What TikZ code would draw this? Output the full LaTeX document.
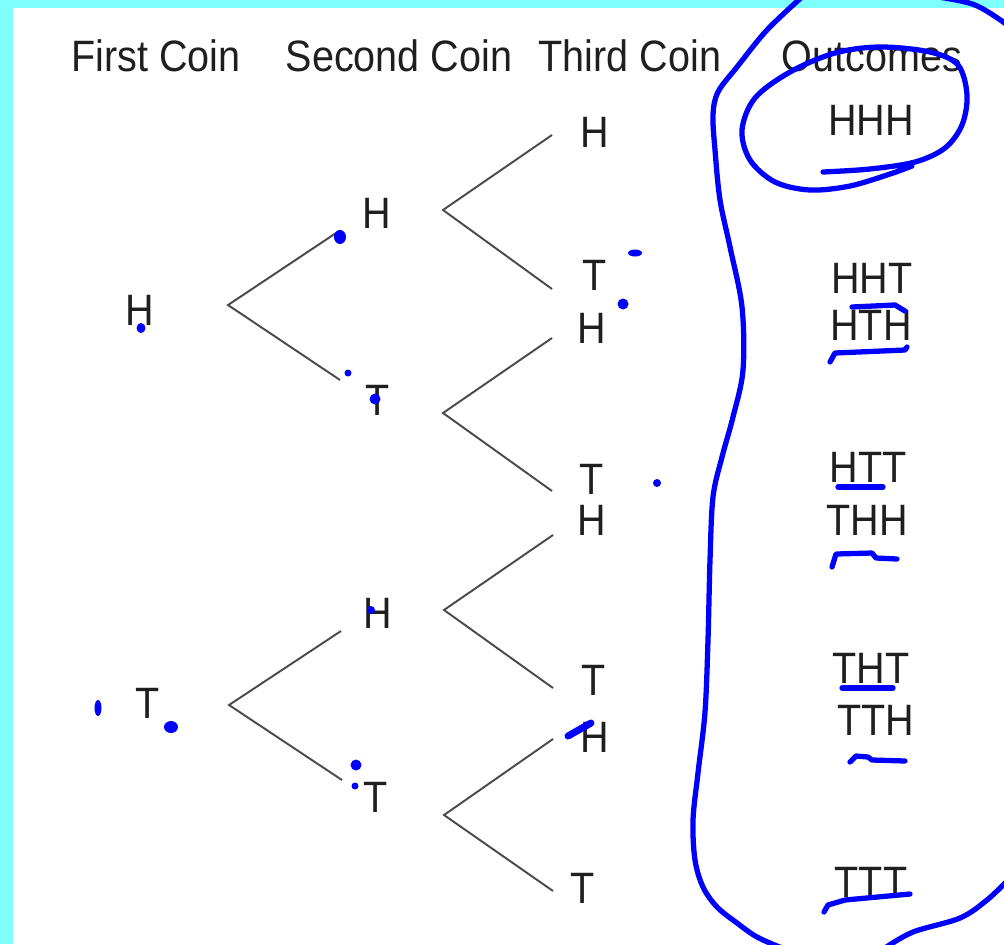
\documentclass[tikz,border=0pt]{standalone}
\usepackage{fontspec}
\setmainfont[FakeStretch=0.9]{Liberation Sans}
\definecolor{frame}{HTML}{80FFFF}
\definecolor{pen}{HTML}{0000FF}
\definecolor{stem}{HTML}{4A4A4A}

\begin{document}
\begin{tikzpicture}[x=0.02cm, y=-0.02cm,
    every node/.style={font=\fontsize{25}{30}\selectfont, text=black!88, inner sep=0pt},
    twig/.style={draw=stem, line width=1.1pt},
    ink/.style={draw=pen, line width=3pt, line cap=round, line join=round},
    blot/.style={fill=pen}]

    % --- 0. 枠と背景 ---
    \fill[frame] (0,0) rectangle (1004,944);
    \fill[white] (13,8) rectangle (1004,944);
    \useasboundingbox (0,0) rectangle (1004,944);

    % --- 1. 見出し ---
    \node (hFirst)  at (156,56) {First Coin};
    \node (hSecond) at (399,56) {Second Coin};
    \node (hThird)  at (630,56) {Third Coin};
    \node (hOut)    at (872,56) {Outcomes};

    % --- 2. 分岐点の座標 ---
    \coordinate (A)  at (228,305);  \coordinate (Au) at (339,231);  \coordinate (Ad) at (340,380);
    \coordinate (B)  at (229,705);  \coordinate (Bu) at (341,631);  \coordinate (Bd) at (342,780);
    \coordinate (C)  at (443,210);  \coordinate (Cu) at (552,135);  \coordinate (Cd) at (552,289);
    \coordinate (D)  at (443,413);  \coordinate (Du) at (552,338);  \coordinate (Dd) at (552,491);
    \coordinate (E)  at (444,610);  \coordinate (Eu) at (553,535);  \coordinate (Ed) at (553,688);
    \coordinate (F)  at (444,815);  \coordinate (Fu) at (553,739);  \coordinate (Fd) at (553,891);

    % --- 3. 枝 ---
    \draw[twig] (Au) -- (A) -- (Ad);
    \draw[twig] (Bu) -- (B) -- (Bd);
    \draw[twig] (Cu) -- (C) -- (Cd);
    \draw[twig] (Du) -- (D) -- (Dd);
    \draw[twig] (Eu) -- (E) -- (Ed);
    \draw[twig] (Fu) -- (F) -- (Fd);

    % --- 4. ラベル (1枚目, 2枚目, 3枚目) ---
    \node (oneH) at (140,310) {H};
    \node (oneT) at (148,703) {T};

    \node (twoHH) at (377,213) {H};
    \node (twoHT) at (378,400) {T};
    \node (twoTH) at (378,613) {H};
    \node (twoTT) at (376,797) {T};

    \node (thrHHH) at (595,132) {H};
    \node (thrHHT) at (595,275) {T};
    \node (thrHTH) at (592,328) {H};
    \node (thrHTT) at (592,479) {T};
    \node (thrTHH) at (592,520) {H};
    \node (thrTHT) at (594,680) {T};
    \node (thrTTH) at (595,737) {H};
    \node (thrTTT) at (583,888) {T};

    % --- 5. 結果 ---
    \node (outHHH) at (871,120) {HHH};
    \node (outHHT) at (872,278) {HHT};
    \node (outHTH) at (871,325) {HTH};
    \node (outHTT) at (868,467) {HTT};
    \node (outTHH) at (867,520) {THH};
    \node (outTHT) at (871,668) {THT};
    \node (outTTH) at (876,720) {TTH};
    \node (outTTT) at (871,882) {TTT};

    % --- 6. 書き込み (青ペン) ---
    % 結果全体を囲む線
    \draw[ink] plot[smooth, tension=0.55] coordinates {(803,-4) (767,30) (737,67) (718,92)
        (713,115) (715,150) (720,200) (730,247) (742,307) (743,370) (733,417) (722,457)
        (713,497) (710,560) (708,640) (705,712) (698,773) (693,820) (695,860) (703,887)
        (717,907) (737,923) (757,937) (782,948)};
    \draw[ink] plot[smooth, tension=0.55] coordinates {(885,948) (913,932) (960,918)
        (987,900) (1008,880)};
    \draw[ink] plot[smooth, tension=0.6] coordinates {(938,-3) (975,5) (1006,24)};

    % HHH の丸
    \draw[ink] plot[smooth, tension=0.55] coordinates {(823,172) (870,169) (915,162)
        (945,148) (962,125) (967,95) (958,65) (930,52) (880,47) (835,53) (790,72)
        (755,98) (742,130) (750,160) (775,182) (810,190) (850,186) (890,174) (912,166)};

    % 下線
    \draw[ink] (852,307) -- (895,305) -- (905,311);
    \draw[ink] (830,362) -- (835,353) -- (905,350) -- (907,347);
    \draw[ink] (838,487) -- (883,487);
    \draw[ink] (832,567) -- (836,554) -- (872,553) -- (876,558) -- (897,559);
    \draw[ink] (842,688) -- (893,688);
    \draw[ink] (850,762) -- (856,756) -- (868,757) -- (872,760) -- (905,761);
    \draw[ink] (824,912) -- (828,905) -- (845,900) -- (910,894);

    % 点
    \fill[blot] (141,328) ellipse (4.5 and 5);
    \fill[blot] (340,237) ellipse (6 and 7);
    \fill[blot] (348,373) circle (3.5);
    \fill[blot] (375,399) circle (5.5);
    \fill[blot] (635,253) ellipse (7 and 3.5);
    \fill[blot] (623,304) circle (5.5);
    \fill[blot] (657,483) circle (4);
    \fill[blot] (371,610) circle (4);
    \fill[blot] (98,708) ellipse (3.5 and 8);
    \fill[blot] (171,727) ellipse (7 and 6);
    \fill[blot] (356,765) circle (5.5);
    \fill[blot] (355,786) circle (3.5);
    \draw[ink, line width=4pt] (568,736) -- (591,723);

\end{tikzpicture}
\end{document}
